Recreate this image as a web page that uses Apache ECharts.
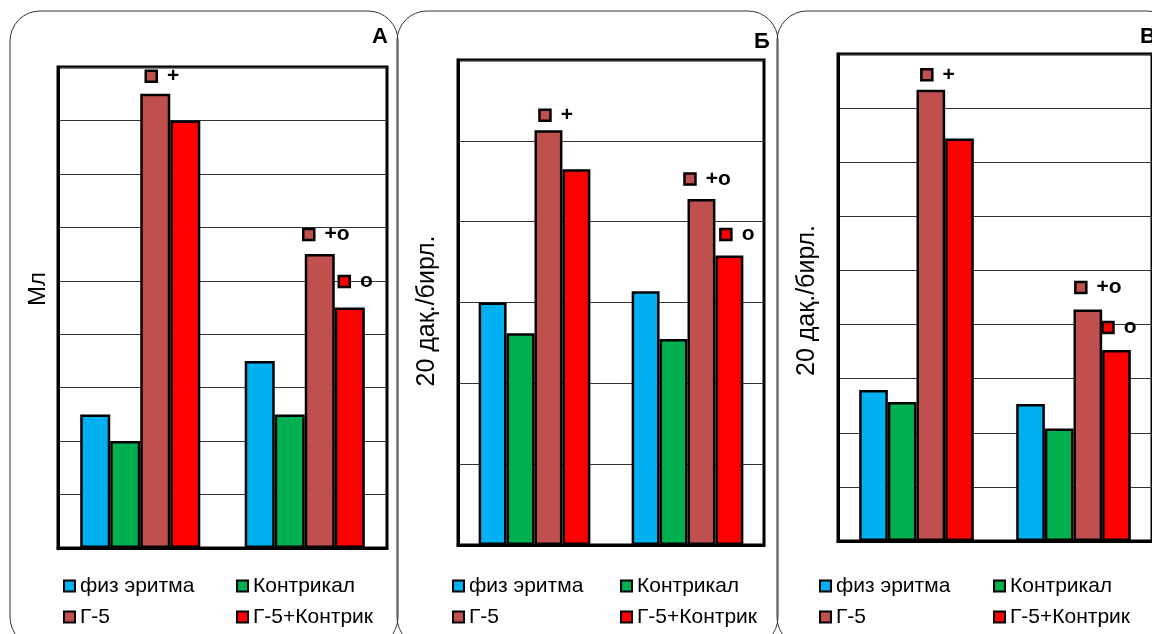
<!DOCTYPE html>
<html>
<head>
<meta charset="utf-8">
<script src="https://cdn.jsdelivr.net/npm/echarts@6/dist/echarts.min.js"></script>
<style>
html,body{margin:0;padding:0;background:#fff;}
#chart{width:1152px;height:634px;}
</style>
</head>
<body>
<div id="chart"></div>
<script>
// ---- data ----
const categories = ['1', '2'];
const seriesNames = ['физ эритма', 'Контрикал', 'Г-5', 'Г-5+Контрик'];
const panelTitles = ['А', 'Б', 'В'];
const axisNames = ['Мл', '20 дақ./бирл.', '20 дақ./бирл.'];
const axisMax = [9, 6, 9];

const panelA_fiz = [2.5, 3.5];
const panelA_kontr = [2.0, 2.5];
const panelA_g5 = [8.5, 5.5];
const panelA_g5k = [8.0, 4.5];

const panelB_fiz = [3.0, 3.14];
const panelB_kontr = [2.62, 2.55];
const panelB_g5 = [5.13, 4.28];
const panelB_g5k = [4.65, 3.58];

const panelC_fiz = [2.79, 2.53];
const panelC_kontr = [2.57, 2.08];
const panelC_g5 = [8.34, 4.28];
const panelC_g5k = [7.44, 3.53];

// annotations: series index, category index, text
const annA = [[2, 0, '+'], [2, 1, '+o'], [3, 1, 'o']];
const annB = [[2, 0, '+'], [2, 1, '+o'], [3, 1, 'o']];
const annC = [[2, 0, '+'], [2, 1, '+o'], [3, 1, 'o']];

// ---- layout / style ----
const colors = ['#00B0F0', '#00B050', '#C0504D', '#FF0000'];
const FONT = "'Liberation Sans', Arial, sans-serif";
const grids = [
  { left: 58, top: 67, width: 329, height: 481 },
  { left: 458, top: 60, width: 306, height: 485 },
  { left: 838, top: 54, width: 316, height: 487 }
];
const annOffsets = [
  [[-4, -17.5], [-11, -19.5], [-5.5, -26]],
  [[-3.5, -15], [-11.5, -20], [-3.5, -21]],
  [[-4, -15], [-7, -22], [-8.5, -22.5]]
];
const titlePos = [[372, 26], [754, 31], [1140, 26]];
const nameGaps = [8, 18, 18];
const nameSizes = [24, 25, 25];
const namePads = [[0, 0, 0, 37], [0, 17, 0, 0], [0, 6, 0, 0]];
const legendCols = [[63, 236], [452, 620], [819, 993]];
const legendRows = [575, 606];
const panelRects = [[10, 11, 388], [397, 11, 381], [777, 11, 400]];

const panelData = [
  [panelA_fiz, panelA_kontr, panelA_g5, panelA_g5k],
  [panelB_fiz, panelB_kontr, panelB_g5, panelB_g5k],
  [panelC_fiz, panelC_kontr, panelC_g5, panelC_g5k]
];
const panelAnn = [annA, annB, annC];

const option = {
  animation: false,
  backgroundColor: '#fff',
  textStyle: { fontFamily: FONT },
  title: panelTitles.map((t, i) => ({
    text: t, left: titlePos[i][0], top: titlePos[i][1], padding: 0,
    textStyle: { fontFamily: FONT, fontSize: 22, fontWeight: 'bold', color: '#000' }
  })),
  graphic: panelRects.map(r => ({
    type: 'rect', z: -10, silent: true,
    shape: { x: r[0], y: r[1], width: r[2], height: 636, r: 30 },
    style: { fill: 'none', stroke: '#333', lineWidth: 1 }
  })),
  grid: grids.map(g => Object.assign({ show: true, borderColor: '#000', borderWidth: 3, backgroundColor: 'transparent' }, g)),
  xAxis: grids.map((g, i) => ({
    type: 'category', gridIndex: i, data: categories,
    axisLine: { show: true, lineStyle: { color: '#000', width: 3 } },
    axisTick: { show: false }, axisLabel: { show: false }, splitLine: { show: false }
  })),
  yAxis: grids.map((g, i) => ({
    type: 'value', gridIndex: i, min: 0, max: axisMax[i], interval: 1,
    name: axisNames[i], nameLocation: 'middle', nameRotate: 90, nameGap: nameGaps[i],
    nameTextStyle: { fontFamily: FONT, fontSize: nameSizes[i], color: '#000', padding: namePads[i] },
    axisLine: { show: true, lineStyle: { color: '#000', width: 3 } },
    axisTick: { show: false }, axisLabel: { show: false },
    splitLine: { show: true, lineStyle: { color: '#333', width: 1.2 } }
  })),
  legend: [],
  series: []
};

grids.forEach((g, p) => {
  seriesNames.forEach((name, s) => {
    const anns = panelAnn[p].map((a, k) => ({ a, k })).filter(o => o.a[0] === s);
    const ser = {
      type: 'bar', name: name, xAxisIndex: p, yAxisIndex: p,
      data: panelData[p][s],
      barGap: '0%', barCategoryGap: '27%',
      itemStyle: { color: colors[s], borderColor: '#000', borderWidth: 2.5 },
      emphasis: { disabled: true }
    };
    if (anns.length) {
      ser.markPoint = {
        silent: true,
        data: anns.map(o => ({
          coord: [o.a[1], panelData[p][s][o.a[1]]],
          symbol: 'rect', symbolSize: 11,
          symbolOffset: annOffsets[p][o.k],
          itemStyle: { color: colors[s], borderColor: '#000', borderWidth: 2.5 },
          label: {
            show: true, position: 'right', distance: 9, formatter: o.a[2],
            fontFamily: FONT, fontSize: 21, fontWeight: 'bold', color: '#000'
          }
        }))
      };
    }
    option.series.push(ser);
    const col = s % 2, row = Math.floor(s / 2);
    option.legend.push({
      data: [name], left: legendCols[p][col], top: legendRows[row], padding: 0,
      itemWidth: 11, itemHeight: 11, icon: 'rect', selectedMode: false,
      itemStyle: { borderColor: '#000', borderWidth: 2 },
      textStyle: { fontFamily: FONT, fontSize: 21, color: '#000', lineHeight: 22 }
    });
  });
});

const chart = echarts.init(document.getElementById('chart'), null, { renderer: 'canvas' });
chart.setOption(option);
</script>
</body>
</html>
